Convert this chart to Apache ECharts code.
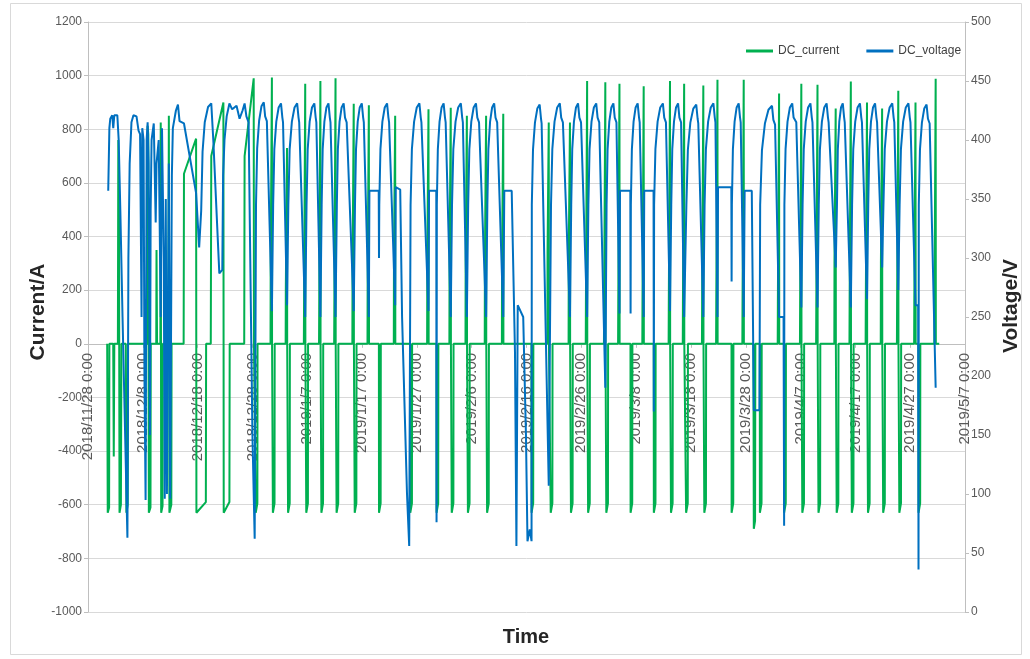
<!DOCTYPE html>
<html><head><meta charset="utf-8">
<script src="https://cdn.jsdelivr.net/npm/echarts@6/dist/echarts.min.js"></script>
<style>html,body{margin:0;padding:0;background:#fff;}#c{width:1030px;height:659px;}</style>
</head><body><div id="c"></div>
<script>
// x values are days since 2018/11/28 0:00
const tickLabels = ['2018/11/28 0:00','2018/12/8 0:00','2018/12/18 0:00','2018/12/28 0:00','2019/1/7 0:00','2019/1/17 0:00','2019/1/27 0:00','2019/2/6 0:00','2019/2/16 0:00','2019/2/26 0:00','2019/3/8 0:00','2019/3/18 0:00','2019/3/28 0:00','2019/4/7 0:00','2019/4/17 0:00','2019/4/27 0:00','2019/5/7 0:00'];

// irregular early part (read point by point)
const earlyCurrent = [[3.5,0],[3.6,-630],[3.85,-610],[3.9,0],[4.6,0],[4.7,-420],[4.8,0],[5.45,0],[5.53,760],[5.65,470],[5.75,-630],[6.0,-600],[6.1,0],[6.9,0],[7.0,-630],[7.25,-600],[7.3,0],[10.8,0],[10.88,813],[11.0,780],[11.1,-630],[11.4,-610],[11.45,0],[12.45,0],[12.5,350],[12.6,0],[13.2,0],[13.27,825],[13.35,-630],[13.6,-605],[13.65,0],[14.65,0],[14.75,850],[14.85,-630],[15.2,-600],[15.25,0],[17.45,0],[17.51,634],[19.72,765],[19.78,-630],[21.5,-590],[21.55,0],[22.4,0],[22.49,700],[24.70,900],[24.76,-630],[25.8,-590],[25.85,0],[28.5,0],[28.57,700],[30.23,990],[30.28,0]];
const earlyVoltage = [[3.69,357],[3.9,410],[4.06,418],[4.42,421],[4.61,410],[4.8,421],[5.35,421],[5.6,400],[5.9,340],[6.3,250],[7.19,63],[7.37,300],[7.6,380],[7.93,415],[8.29,421],[8.85,420],[9.22,408],[9.5,405],[9.77,250],[9.9,410],[10.14,400],[10.3,200],[10.51,95],[10.7,400],[10.88,415],[11.06,380],[11.3,150],[11.43,340],[11.6,400],[12.0,414],[12.35,330],[12.5,380],[12.9,400],[13.27,250],[13.5,410],[13.82,300],[14.0,96],[14.19,350],[14.4,100],[14.75,380],[15.0,96],[15.3,370],[15.48,410],[16.04,425],[16.41,430],[16.7,416],[17.51,414],[19.72,355],[20.28,309],[20.65,340],[20.9,390],[21.3,415],[21.9,428],[22.49,431],[22.86,400],[23.96,287],[24.5,290],[24.65,370],[24.9,400],[25.3,420],[25.8,431],[26.3,426],[27.1,429],[27.65,418],[28.2,425],[28.57,431],[28.9,420],[29.3,415],[29.6,300],[30.0,150],[30.41,62]];

// regular charge / discharge cycles (read per cycle)
const riseStart  = [30.60,33.73,36.50,39.82,42.58,45.35,48.66,53.09,58.80,63.59,66.36,69.31,72.81,80.92,84.42,88.11,91.24,94.56,98.99,103.23,106.36,109.12,112.44,117.42,122.58,127.00,130.32,133.27,136.59,139.35,142.30,145.07,148.02,151.52];
const riseFromV  = [62,255,260,250,250,250,255,300,56,76,250,250,250,60,107,250,250,190,253,170,255,250,250,280,171,73,258,258,292,258,265,292,273,36];
const topDay     = [32.07,35.21,38.16,41.29,43.87,46.64,49.95,54.56,60.46,64.88,68.02,70.78,74.10,82.40,86.08,89.40,92.72,95.85,100.28,104.88,107.65,110.97,114.10,118.71,124.79,128.48,131.80,134.75,137.70,140.83,143.59,146.73,149.68,152.99];
const topV       = [432,431,431,431,431,431,431,431,431,431,431,431,431,430,431,431,431,431,431,431,431,430,431,431,429,431,431,431,431,431,431,431,431,430];
const descStart  = [32.63,35.58,38.53,41.66,44.24,47.19,50.32,54.93,60.83,65.25,68.39,71.34,74.65,82.76,86.64,89.95,93.27,96.41,100.65,105.44,108.20,111.34,114.47,119.08,125.35,129.22,132.17,135.12,138.06,141.20,143.96,147.10,150.05,153.55];
const spikeDay   = [33.55,36.31,39.63,42.40,45.16,48.48,51.24,56.04,62.12,66.18,69.12,72.63,75.76,84.06,87.93,91.06,94.38,96.96,101.38,106.18,108.76,112.26,114.84,119.63,126.08,130.14,133.09,136.41,139.17,142.12,144.88,147.83,150.97,154.65];
const spikeStartA= [300,200,130,130,130,250,250,310,310,310,310,310,310,340,340,150,150,150,150,150,150,150,150,150,150,150,150,300,150,150,300,150,150,150];
const spikeA     = [993,730,970,980,990,895,890,850,875,880,850,850,858,825,825,980,975,970,960,980,970,963,985,985,933,970,966,877,978,900,877,944,900,988];
const lowV       = [255,260,250,250,250,255,250,260,255,250,250,250,250,107,250,250,190,253,250,255,250,250,250,250,250,258,258,292,258,265,292,273,260,190];
const restV      = [0,0,0,0,0,0,357,0,357,0,0,0,0,0,0,0,0,357,357,0,0,0,360,0,0,0,0,0,0,0,0,0,0,0];
const chargeA = -630, chargeEndA = -595;

// irregular extra points between cycles
const extraVoltage = [[56.14,360],[56.96,358],[57.3,250],[58.2,100],[58.6,56],[75.95,357],[77.3,357],[77.9,220],[78.16,56],[78.4,260],[79.4,250],[79.9,150],[80.18,60],[80.6,70],[119.8,357],[121.1,357],[121.47,171],[122.5,171],[126.9,250],[151.45,260]];
const extraCurrent = [[121.4,0],[121.47,-690],[121.7,-660],[121.75,0],[155.3,0]];

// shape of a charging voltage rise (fraction of time, fraction of amplitude)
const riseShapeT = [0, 0.15, 0.4, 0.7, 1];
const riseShapeA = [0, 0.55, 0.82, 0.96, 1];

const cur = earlyCurrent.slice(), volt = earlyVoltage.slice();
for (let i = 0; i < riseStart.length; i++) {
  const rs = riseStart[i];
  cur.push([rs - 0.02, 0], [rs, chargeA], [rs + 0.3, chargeEndA], [rs + 0.33, 0]);
  cur.push([spikeDay[i] - 0.25, 0], [spikeDay[i] - 0.22, spikeStartA[i]], [spikeDay[i], spikeA[i]], [spikeDay[i] + 0.03, 0]);
  volt.push([rs, riseFromV[i]]);
  const base = Math.max(riseFromV[i], 345);
  let t0 = rs;
  if (riseFromV[i] < base) { t0 = rs + 0.05; }
  for (let k = 0; k < riseShapeT.length; k++) {
    volt.push([t0 + riseShapeT[k] * (topDay[i] - t0), base + riseShapeA[k] * (topV[i] - base)]);
  }
  volt.push([topDay[i] + 0.25, topV[i] - 12], [descStart[i], topV[i] - 16], [spikeDay[i], lowV[i]]);
  if (restV[i] && i + 1 < riseStart.length) {
    volt.push([spikeDay[i] + 0.1, restV[i]], [riseStart[i + 1] - 0.05, restV[i]]);
  }
}
extraCurrent.forEach(p => cur.push(p));
extraVoltage.forEach(p => volt.push(p));
cur.sort((a, b) => a[0] - b[0]);
volt.sort((a, b) => a[0] - b[0]);

const FONT = "'Liberation Sans', Arial, sans-serif";
const GRID = {left: 88, right: 65, top: 22, bottom: 47};
const plotH = 659 - GRID.top - GRID.bottom;
const zeroOffset = -(plotH * 1000 / 2200);

const chart = echarts.init(document.getElementById('c'), null, {renderer: 'canvas'});
chart.setOption({
  animation: false,
  backgroundColor: '#ffffff',
  grid: Object.assign({containLabel: false}, GRID),
  legend: {
    data: ['DC_current', 'DC_voltage'], left: 741, top: 40, icon: 'rect', itemWidth: 27, itemHeight: 3, itemGap: 27,
    textStyle: {fontSize: 12, color: '#404040', fontFamily: FONT}
  },
  xAxis: {
    type: 'value', min: 0, max: 160, interval: 10, offset: zeroOffset,
    axisLine: {onZero: false, lineStyle: {color: '#bfbfbf'}},
    axisTick: {show: true, length: 4, lineStyle: {color: '#bfbfbf'}},
    splitLine: {show: false},
    axisLabel: {rotate: 90, margin: 9, fontSize: 15, color: '#595959', fontFamily: FONT, showMaxLabel: true, showMinLabel: true,
      formatter: v => tickLabels[Math.round(v / 10)] || ''}
  },
  yAxis: [{
    type: 'value', min: -1000, max: 1200, interval: 200, position: 'left',
    axisLine: {show: true, lineStyle: {color: '#bfbfbf'}},
    axisTick: {show: true, length: 4, lineStyle: {color: '#bfbfbf'}},
    splitLine: {show: true, lineStyle: {color: '#d9d9d9', width: 1}},
    axisLabel: {fontSize: 12, color: '#595959', margin: 6, fontFamily: FONT, formatter: v => String(v)}
  }, {
    type: 'value', min: 0, max: 500, interval: 50, position: 'right',
    axisLine: {show: true, lineStyle: {color: '#bfbfbf'}},
    axisTick: {show: true, length: 4, lineStyle: {color: '#bfbfbf'}},
    splitLine: {show: false},
    axisLabel: {fontSize: 12, color: '#595959', margin: 6, fontFamily: FONT, formatter: v => String(v)}
  }],
  graphic: [
    {type: 'rect', shape: {x: 10.5, y: 3.5, width: 1011, height: 651}, style: {fill: 'none', stroke: '#d9d9d9', lineWidth: 1}, silent: true},
    {type: 'text', x: 526, y: 637, style: {text: 'Time', font: "bold 20px 'Liberation Sans', Arial, sans-serif", fill: '#262626', align: 'center', verticalAlign: 'middle'}},
    {type: 'text', x: 38, y: 312, rotation: Math.PI / 2, style: {text: 'Current/A', font: "bold 21px 'Liberation Sans', Arial, sans-serif", fill: '#262626', align: 'center', verticalAlign: 'middle'}},
    {type: 'text', x: 1011, y: 306, rotation: Math.PI / 2, style: {text: 'Voltage/V', font: "bold 21px 'Liberation Sans', Arial, sans-serif", fill: '#262626', align: 'center', verticalAlign: 'middle'}}
  ],
  series: [{
    name: 'DC_current', type: 'line', yAxisIndex: 0, data: cur, showSymbol: false, symbol: 'none',
    lineStyle: {color: '#00b050', width: 2}, itemStyle: {color: '#00b050'}
  }, {
    name: 'DC_voltage', type: 'line', yAxisIndex: 1, data: volt, showSymbol: false, symbol: 'none',
    lineStyle: {color: '#0070c0', width: 2}, itemStyle: {color: '#0070c0'}
  }]
});
</script></body></html>
